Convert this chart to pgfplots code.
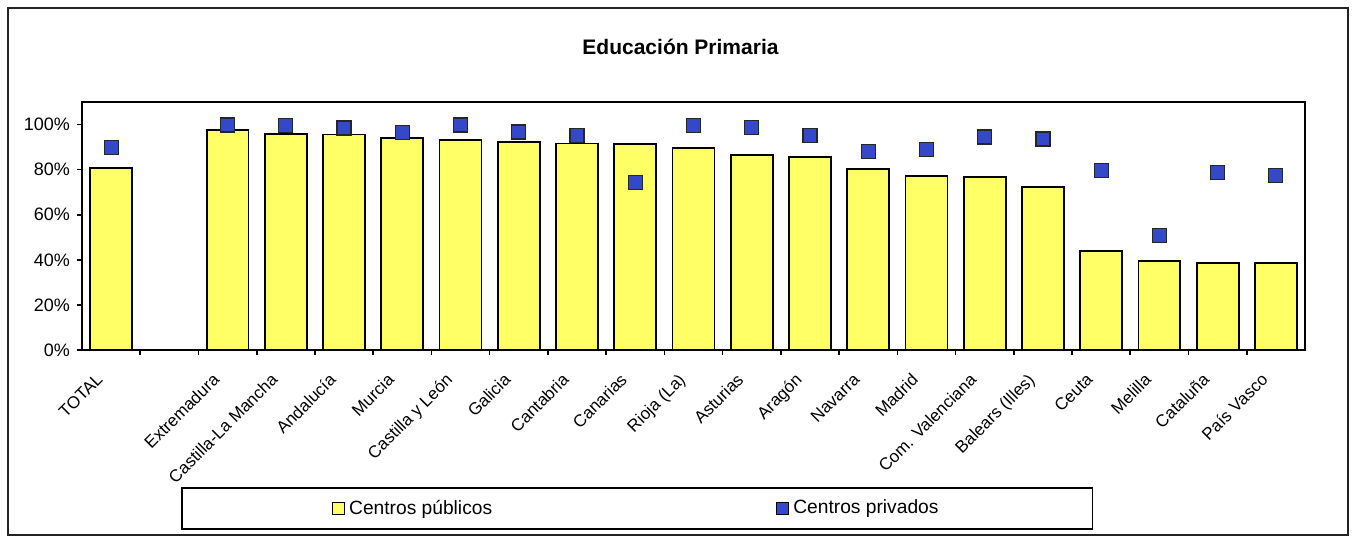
\documentclass[border=0pt]{standalone}
\usepackage{fontspec}
\setmainfont{Liberation Sans}
\usepackage{pgfplots}
\pgfplotsset{compat=1.18}
\definecolor{barfill}{RGB}{255,255,102}
\definecolor{privfill}{RGB}{52,72,200}
\definecolor{frameline}{RGB}{35,35,35}

\begin{document}
\begin{tikzpicture}
\path[use as bounding box] (0pt,0pt) rectangle (677.5pt,-271pt);
\draw[line width=1pt, frameline] (4pt,-4pt) rectangle (674pt,-267.5pt);
\begin{axis}[
    at={(41pt,-175pt)}, anchor=south west,
    scale only axis, width=611.5pt, height=124pt,
    xmin=-0.5, xmax=20.5, ymin=0, ymax=110,
    axis line style={line width=0.9pt, black},
    title={Educación Primaria},
    title style={at={(0.5,1)}, anchor=center, yshift=21.5pt, xshift=-6.5pt,
        font=\bfseries\fontsize{10.5}{12}\selectfont},
    tick pos=left, tick align=outside,
    major tick length=2.5pt, minor tick length=2.5pt,
    tick style={black, line width=0.8pt},
    ytick={0,20,...,100},
    yticklabel={\pgfmathprintnumber{\tick}\%},
    /pgf/number format/assume math mode=true,
    y tick label style={font=\fontsize{9}{10}\selectfont},
    xtick={0,2,3,...,20},
    xticklabels={TOTAL,Extremadura,Castilla-La Mancha,Andalucía,Murcia,Castilla y León,Galicia,Cantabria,Canarias,Rioja (La),Asturias,Aragón,Navarra,Madrid,Com. Valenciana,Balears (Illes),Ceuta,Melilla,Cataluña,País Vasco},
    major x tick style={draw=none},
    minor xtick={0.5,1.5,...,19.5},
    x tick label style={xshift=-8pt, yshift=-7pt, rotate=45, anchor=north east, inner sep=1pt,
        font=\fontsize{8.5}{10}\selectfont},
    legend columns=2,
    legend cell align=left,
    legend style={at={(0.454,-0.639)}, anchor=center, draw=black, line width=0.9pt,
        inner xsep=75pt, inner ysep=4pt,
        font=\fontsize{9.6}{11}\selectfont,
        /tikz/every even column/.append style={column sep=140pt}},
]
\addplot[ybar, bar width=0.72, fill=barfill, draw=black, line width=0.9pt,
    legend image code/.code={\draw[fill=barfill,draw=black,line width=0.6pt] (0pt,-3pt) rectangle (6pt,3pt);}]
coordinates {
    (0,80.7) (2,97.5) (3,95.8) (4,95.6) (5,94.1) (6,93.3) (7,92.3) (8,91.6)
    (9,91.4) (10,89.5) (11,86.4) (12,85.5) (13,80.3) (14,77.3) (15,76.7)
    (16,72.3) (17,44.0) (18,39.4) (19,38.5) (20,38.5)
};
\addlegendentry{Centros públicos}
\addplot[only marks, mark=square*, mark size=3.5pt,
    mark options={fill=privfill, draw=black!85, line width=0.6pt},
    legend image code/.code={\draw[fill=privfill,draw=black,line width=0.6pt] (0pt,-3pt) rectangle (6pt,3pt);}]
coordinates {
    (0,90.0) (2,99.8) (3,99.6) (4,98.5) (5,96.3) (6,99.8) (7,96.7) (8,95.1)
    (9,74.4) (10,99.7) (11,98.8) (12,95.3) (13,88.1) (14,88.9) (15,94.5)
    (16,93.6) (17,79.6) (18,50.8) (19,78.8) (20,77.5)
};
\addlegendentry{Centros privados}
\end{axis}
\end{tikzpicture}
\end{document}
